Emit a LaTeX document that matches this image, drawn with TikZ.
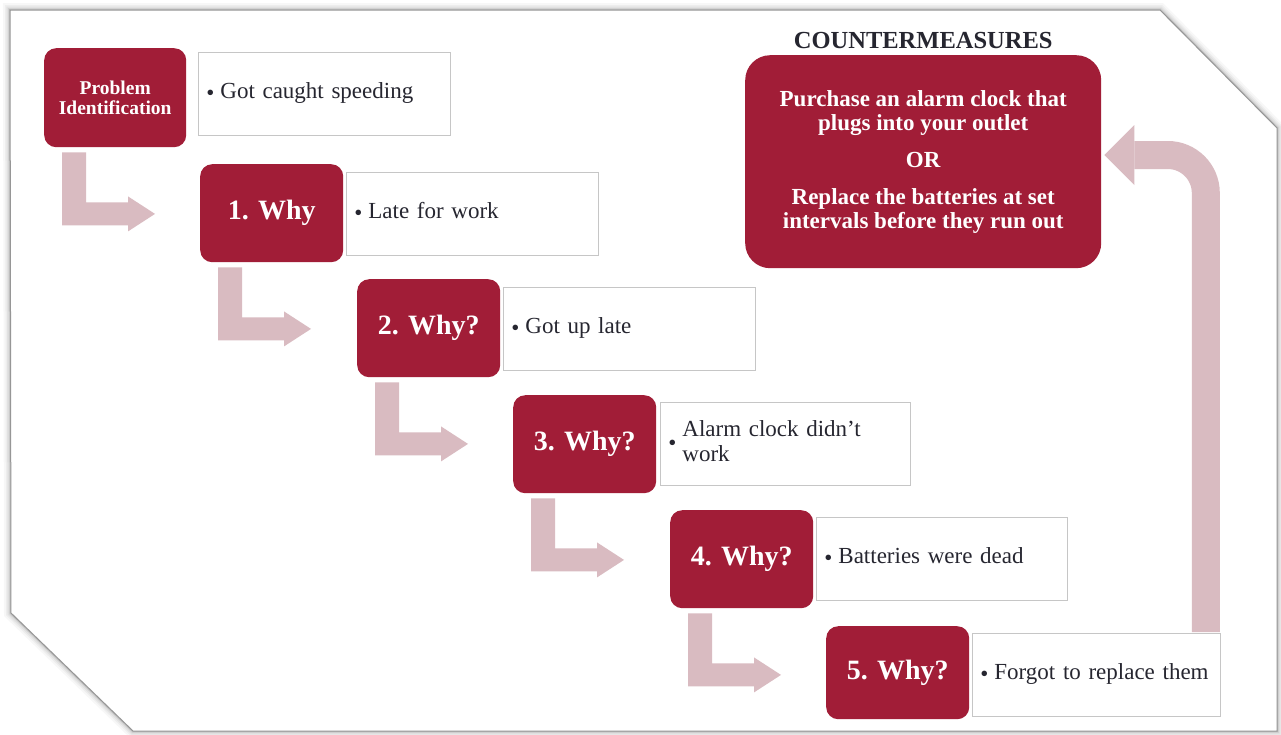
\documentclass[tikz,border=0pt]{standalone}
\usepackage{fontspec}
\setmainfont{Liberation Serif}
\usetikzlibrary{calc}
\definecolor{wred}{RGB}{161,29,55}
\definecolor{wpink}{RGB}{217,187,193}
\definecolor{wtext}{RGB}{38,38,48}
\definecolor{wedge}{RGB}{150,150,150}
\newcommand\bul[1]{\makebox[14pt][l]{\textbullet}\begin{tabular}[c]{@{}l@{}}#1\end{tabular}}
\newcommand\larrow[1]{%
  \fill[wpink] ($(#1.south west)+(18,5)$) -- ++(24,0) -- ++(0,50) -- ++(42,0) -- ++(0,-6)
    -- ++(27,17.5) -- ++(-27,17.5) -- ++(0,-6) -- ++(-66,0) -- cycle;}
\begin{document}
\begin{tikzpicture}[x=1pt,y=-1pt,
  whybox/.style={rectangle, rounded corners=12pt, fill=wred, text=white,
    font=\bfseries\fontsize{28}{30}\selectfont, minimum width=143pt,
    minimum height=98pt, anchor=north west, inner sep=0pt, align=center},
  tbox/.style={rectangle, draw=gray!45, line width=0.8pt, fill=white,
    minimum height=83pt, text width=236pt, inner xsep=8pt, inner ysep=0pt,
    align=left, anchor=north west, text=wtext,
    font=\fontsize{23}{25}\selectfont}]
\useasboundingbox (0,0) rectangle (1281,734);
% frame with soft shadow
\foreach \w/\o in {14/0.03,10/0.04,7/0.05,4/0.07,2/0.1}{
  \draw[black, opacity=\o, line width=\w pt, line join=miter]
    (10,10) -- (1160,10) -- (1277,128) -- (1277,731) -- (133,731) -- (11,613) -- cycle;}
\fill[white] (10,10) -- (1160,10) -- (1277,128) -- (1277,731) -- (133,731) -- (11,613) -- cycle;
\draw[wedge, line width=1pt] (10,10) -- (1160,10) -- (1277,128) -- (1277,731) -- (133,731) -- (11,613) -- cycle;

% red boxes
\node[whybox, minimum width=142pt, minimum height=99pt,
  font=\bfseries\fontsize{19.5}{20}\selectfont] (b0) at (44,48) {Problem\\Identification};
\node[whybox] (b1) at (200,164) {1. Why};
\node[whybox] (b2) at (357,279) {2. Why?};
\node[whybox] (b3) at (513,395) {3. Why?};
\node[whybox] (b4) at (670,510) {4. Why?};
\node[whybox, minimum height=93pt] (b5) at (826,626) {5. Why?};

% text boxes
\node[tbox] (t0) at (198,52) {\bul{Got caught speeding}};
\node[tbox] (t1) at (346,172) {\bul{Late for work}};
\node[tbox] (t2) at (503,287) {\bul{Got up late}};
\node[tbox, text width=234pt] (t3) at (660,402) {\bul{Alarm clock didn’t\\work}};
\node[tbox, text width=235pt] (t4) at (816,517) {\bul{Batteries were dead}};
\node[tbox, text width=232pt] (t5) at (972,633) {\bul{Forgot to replace them}};

% bent arrows
\larrow{b0}
\larrow{b1}
\larrow{b2}
\larrow{b3}
\larrow{b4}

% countermeasures
\node[rectangle, rounded corners=25pt, fill=wred, text=white, anchor=north west,
  minimum width=356pt, minimum height=213pt, inner sep=0pt, align=center,
  font=\bfseries\fontsize{23}{24}\selectfont] (cm) at (745,55)
  {Purchase an alarm clock that\\plugs into your outlet\\[13pt]OR\\[13pt]Replace the batteries at set\\intervals before they run out};
\node[anchor=base, inner sep=0pt, text=wtext,
  font=\bfseries\fontsize{24.5}{26}\selectfont] (title) at ($(cm.north)+(0,-7)$) {COUNTERMEASURES};

% return arrow
\coordinate (tip) at ($(cm.north east)+(3,100)$);
\draw[wpink, line width=28pt, rounded corners=38pt]
  ($(t5.north east)+(-15,-1)$) |- ($(tip)+(30,0)$);
\fill[wpink] ($(tip)+(30,-30)$) -- (tip) -- ($(tip)+(30,30)$) -- cycle;
\end{tikzpicture}
\end{document}
